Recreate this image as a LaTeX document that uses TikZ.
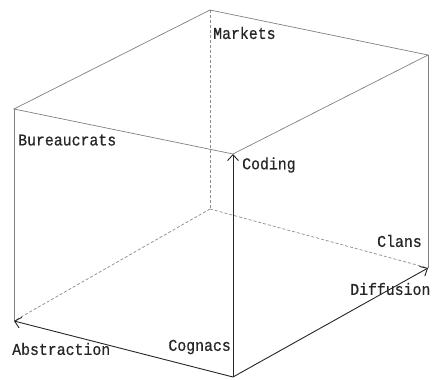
\documentclass[tikz,border=0pt]{standalone}
\usepackage{fontspec}
\newfontfamily\lblfont{Liberation Mono}[FakeStretch=0.9,FakeBold=0.6]
\usetikzlibrary{arrows.meta}
\begin{document}
\begin{tikzpicture}[x=1pt,y=-1pt,
  edge/.style={draw=black!50,line width=0.7pt},
  hidden/.style={draw=black!45,line width=0.7pt,dash pattern=on 3pt off 2pt},
  axis/.style={draw=black!85,line width=0.9pt,-{Straight Barb[length=6pt,width=11pt]}},
  lbl/.style={font=\lblfont\fontsize{16.5}{16.5}\selectfont,inner sep=0pt,text=black!85}]
\useasboundingbox (0,0) rectangle (432,380);
\clip (0,0) rectangle (432,380);
% vertices
\coordinate (TB) at (210,10);
\coordinate (TR) at (428,55);
\coordinate (TL) at (14,109);
\coordinate (TF) at (233,154);
\coordinate (BB) at (210,209);
\coordinate (BR) at (428,268);
\coordinate (BL) at (14,321);
\coordinate (BF) at (233,377);
% hidden edges
\draw[hidden] (TB) -- (BB);
\draw[hidden] (BB) -- (BL);
\draw[hidden] (BB) -- (BR);
% visible edges
\draw[edge] (TB) -- (TR) -- (TF) -- (TL) -- cycle;
\draw[edge] (TL) -- (BL);
\draw[edge] (TR) -- (BR);
% axes
\draw[axis] (BF) -- (TF);
\draw[axis] (BF) -- (BL);
\draw[axis] (BF) -- (BR);
% labels
\node[lbl,anchor=west] (markets) at (213,33) {Markets};
\node[lbl,anchor=west] (bureau) at (18,140) {Bureaucrats};
\node[lbl,anchor=west] (coding) at (242,165) {Coding};
\node[lbl,anchor=west] (clans) at (377,241) {Clans};
\node[lbl,anchor=west] (diff) at (350,289) {Diffusion};
\node[lbl,anchor=west] (abs) at (12,349) {Abstraction};
\node[lbl,anchor=east] (cog) at (231,347) {Cognacs};
\end{tikzpicture}
\end{document}
